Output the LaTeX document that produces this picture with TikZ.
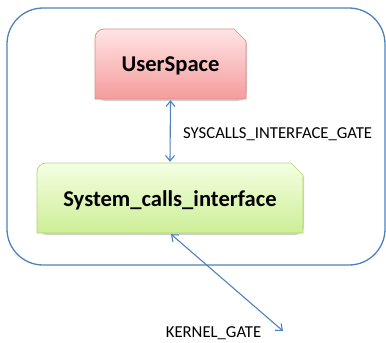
\documentclass[tikz,border=0pt]{standalone}
\usepackage{fontspec}
\setmainfont{Carlito}
\usetikzlibrary{arrows.meta,calc}
\definecolor{frameblue}{HTML}{4F81BD}
\definecolor{redtop}{HTML}{FFE4E4}
\definecolor{redbot}{HTML}{F59C9C}
\definecolor{redline}{HTML}{DC8A8A}
\definecolor{greentop}{HTML}{F4FFE2}
\definecolor{greenbot}{HTML}{CDEE96}
\definecolor{greenline}{HTML}{B2D27A}
\tikzset{
  x=1pt, y=-1pt,
  frame/.style={draw=frameblue, line width=1.3pt, rounded corners=36pt},
  gate/.style={draw=frameblue, line width=1.1pt, {Straight Barb[length=5.5pt,width=9pt]}-{Straight Barb[length=5.5pt,width=9pt]}},
  gatelabel/.style={font=\fontsize{16.7}{19}\selectfont, text=black, inner sep=0pt},
  boxtext/.style={font=\bfseries\fontsize{22.6}{26}\selectfont, text=black, inner sep=0pt},
  boxshadow/.style={fill=black!18, draw=none},
}
% a box with a rounded top-left corner and a snipped top-right corner
\newcommand{\snipbox}[5]{% x1,y1,x2,y2,style
  \fill[boxshadow] (#1+1,#2+2) [rounded corners=9pt] -- (#1+1,#4+2) -- (#3+1,#4+2) [sharp corners] -- (#3+1,#2+14) -- (#3-11,#2+2) [rounded corners=9pt] -- cycle;
  \path[#5] (#1,#4) [rounded corners=9pt] -- (#1,#2) [sharp corners] -- (#3-12,#2) -- (#3,#2+12) -- (#3,#4) -- cycle;
}
\begin{document}
\begin{tikzpicture}
\useasboundingbox (0,0) rectangle (386,343);
% enclosing frame
\draw[frame] (7,8) rectangle (385,265);
% boxes
\snipbox{95}{29}{246}{99}{shade, top color=redtop, bottom color=redbot, draw=redline, line width=0.7pt}
\snipbox{37}{163}{303}{233}{shade, top color=greentop, bottom color=greenbot, draw=greenline, line width=0.7pt}
\node[boxtext, minimum width=151pt, minimum height=70pt] (user) at (170.5,66) {UserSpace};
\node[boxtext, minimum width=266pt, minimum height=70pt] (sci) at (170,200) {System\_calls\_interface};
% free end of the kernel gate
\coordinate (kend) at (283,331);
% connectors
\draw[gate] ($(user.south)+(0,-1)$) -- ($(sci.north)+(0,-3)$);
\draw[gate] ($(sci.south)+(1,-1)$) -- (kend);
% labels
\node[gatelabel, anchor=base west] (lsys) at (183,138) {SYSCALLS\_INTERFACE\_GATE};
\node[gatelabel, anchor=base] (lker) at (213.5,337) {KERNEL\_GATE};
\end{tikzpicture}
\end{document}
